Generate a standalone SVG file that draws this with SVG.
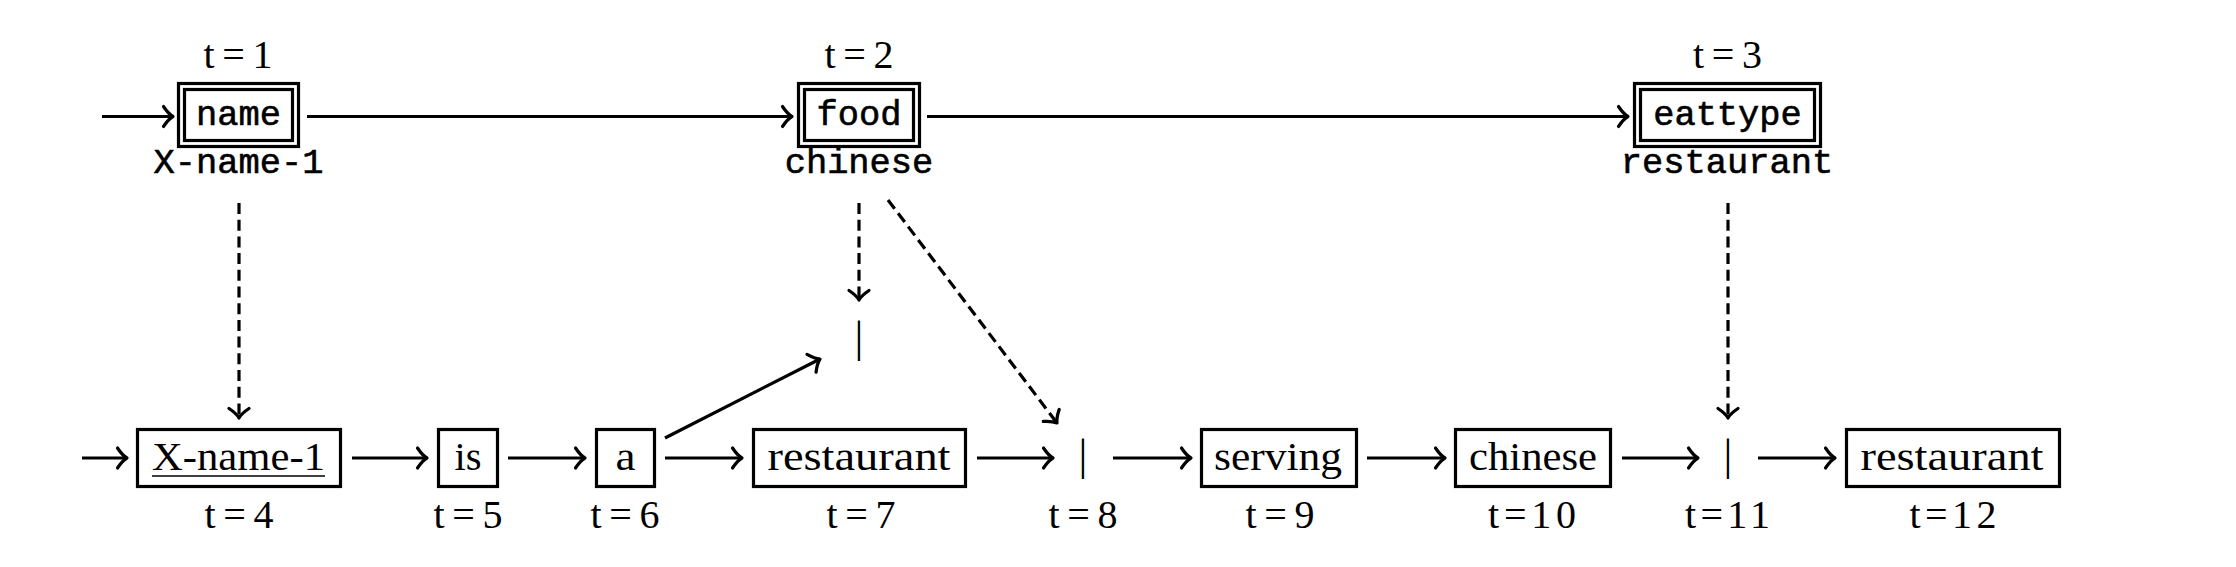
<svg xmlns="http://www.w3.org/2000/svg" width="2236" height="567" viewBox="0 0 2236 567">
<style>
.bg{fill:#fff}
.box{fill:none;stroke:#000;stroke-width:3.2}
.tt{font-family:"Liberation Mono",monospace;font-size:35.4px;fill:#000;stroke:#000;stroke-width:0.6;text-anchor:middle}
.rm{font-family:"Liberation Serif",serif;font-size:40px;fill:#000;text-anchor:middle}
.bar{font-family:"Liberation Serif",serif;font-size:44px;fill:#000;text-anchor:middle}
.ar{fill:none;stroke:#000;stroke-width:3.2;marker-end:url(#ah)}
.da{fill:none;stroke:#000;stroke-width:3.2;stroke-dasharray:11 5.7;marker-end:url(#ah)}
</style>
<defs>
<marker id="ah" viewBox="-12 -12 24 24" markerWidth="24" markerHeight="24" refX="0" refY="0" orient="auto" markerUnits="userSpaceOnUse" overflow="visible">
<path d="M -9.5 -10 Q -4.5 -2.5 0 0 Q -4.5 2.5 -9.5 10" fill="none" stroke="#000" stroke-width="3.2" stroke-linecap="round" stroke-linejoin="round" stroke-dasharray="none"/>
</marker>
</defs>
<rect class="bg" x="0" y="0" width="2236" height="567"/>

<g id="n1">
<text class="rm" x="238" y="68" textLength="69" lengthAdjust="spacing">t=1</text>
<rect class="box" x="178.5" y="83.5" width="120" height="63"/>
<rect class="box" x="184.5" y="89.5" width="108" height="51"/>
<text class="tt" x="238.5" y="125">name</text>
<text class="tt" x="238.5" y="173">X-name-1</text>
</g>
<g id="n2">
<text class="rm" x="859" y="68" textLength="69" lengthAdjust="spacing">t=2</text>
<rect class="box" x="798.5" y="83.5" width="121" height="63"/>
<rect class="box" x="804.5" y="89.5" width="109" height="51"/>
<text class="tt" x="859" y="125">food</text>
<text class="tt" x="859" y="173">chinese</text>
</g>
<g id="n3">
<text class="rm" x="1727.5" y="68" textLength="69" lengthAdjust="spacing">t=3</text>
<rect class="box" x="1634.5" y="83.5" width="186" height="63"/>
<rect class="box" x="1640.5" y="89.5" width="174" height="51"/>
<text class="tt" x="1727.5" y="125">eattype</text>
<text class="tt" x="1727" y="173">restaurant</text>
</g>

<g id="n4">
<rect class="box" x="137.5" y="429.5" width="203" height="57"/>
<text class="rm" x="238.5" y="470" textLength="173" lengthAdjust="spacingAndGlyphs">X-name-1</text>
<line x1="152" y1="476" x2="325" y2="476" stroke="#000" stroke-width="1.6"/>
<text class="rm" x="239" y="528" textLength="69" lengthAdjust="spacing">t=4</text>
</g>
<g id="n5">
<rect class="box" x="438.5" y="429.5" width="59" height="57"/>
<text class="rm" x="468" y="470" textLength="27" lengthAdjust="spacingAndGlyphs">is</text>
<text class="rm" x="468" y="528" textLength="69" lengthAdjust="spacing">t=5</text>
</g>
<g id="n6">
<rect class="box" x="596.5" y="429.5" width="58" height="57"/>
<text class="rm" x="625.5" y="470" textLength="20" lengthAdjust="spacingAndGlyphs">a</text>
<text class="rm" x="625" y="528" textLength="69" lengthAdjust="spacing">t=6</text>
</g>
<g id="n7">
<rect class="box" x="753.5" y="429.5" width="212" height="57"/>
<text class="rm" x="859" y="470" textLength="183" lengthAdjust="spacingAndGlyphs">restaurant</text>
<text class="rm" x="861" y="528" textLength="69" lengthAdjust="spacing">t=7</text>
</g>
<g id="gap7">
<text class="bar" x="859" y="352">|</text>
</g>
<g id="n8">
<text class="bar" x="1083" y="470">|</text>
<text class="rm" x="1083" y="528" textLength="69" lengthAdjust="spacing">t=8</text>
</g>
<g id="n9">
<rect class="box" x="1201.5" y="429.5" width="155" height="57"/>
<text class="rm" x="1278" y="470" textLength="128" lengthAdjust="spacingAndGlyphs">serving</text>
<text class="rm" x="1280" y="528" textLength="69" lengthAdjust="spacing">t=9</text>
</g>
<g id="n10">
<rect class="box" x="1455.5" y="429.5" width="155" height="57"/>
<text class="rm" x="1533" y="470" textLength="128" lengthAdjust="spacingAndGlyphs">chinese</text>
<text class="rm" x="1532" y="528" textLength="88" lengthAdjust="spacing">t=10</text>
</g>
<g id="n11">
<text class="bar" x="1728" y="470">|</text>
<text class="rm" x="1727.5" y="528" textLength="85" lengthAdjust="spacing">t=11</text>
</g>
<g id="n12">
<rect class="box" x="1846.5" y="429.5" width="213" height="57"/>
<text class="rm" x="1952" y="470" textLength="183" lengthAdjust="spacingAndGlyphs">restaurant</text>
<text class="rm" x="1953" y="528" textLength="87" lengthAdjust="spacing">t=12</text>
</g>

<g id="connectors">
<line class="ar" x1="102" y1="116.5" x2="173" y2="116.5"/>
<line class="ar" x1="307" y1="116.5" x2="792" y2="116.5"/>
<line class="ar" x1="927" y1="116.5" x2="1628" y2="116.5"/>
<line class="ar" x1="82" y1="458" x2="127" y2="458"/>
<line class="ar" x1="352" y1="458" x2="427" y2="458"/>
<line class="ar" x1="508" y1="458" x2="585" y2="458"/>
<line class="ar" x1="665" y1="458" x2="742" y2="458"/>
<line class="ar" x1="977" y1="458" x2="1053" y2="458"/>
<line class="ar" x1="1113" y1="458" x2="1191" y2="458"/>
<line class="ar" x1="1367" y1="458" x2="1445" y2="458"/>
<line class="ar" x1="1622" y1="458" x2="1698" y2="458"/>
<line class="ar" x1="1758" y1="458" x2="1835" y2="458"/>
<line class="ar" x1="665" y1="438" x2="820" y2="359"/>
<line class="da" x1="239" y1="203" x2="239" y2="418"/>
<line class="da" x1="859" y1="203" x2="859" y2="300"/>
<line class="da" x1="888" y1="200" x2="1057" y2="423"/>
<line class="da" x1="1728" y1="203" x2="1728" y2="418"/>
</g>
</svg>
